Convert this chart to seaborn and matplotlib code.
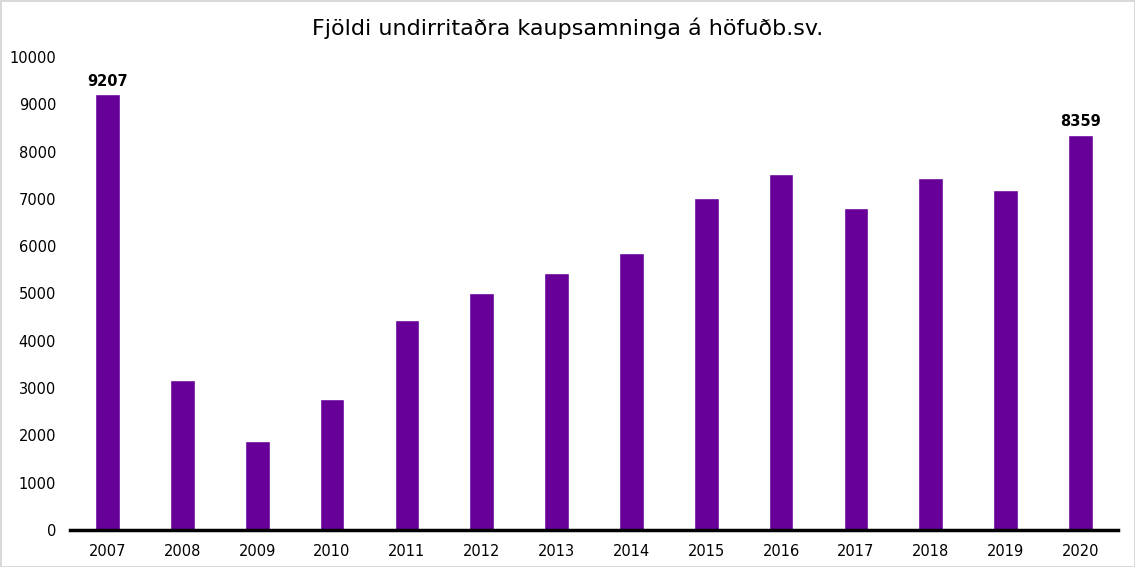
import pandas as pd
import matplotlib
matplotlib.use('Agg')
import matplotlib.pyplot as plt
import seaborn as sns

# Values
years = ['2007', '2008', '2009', '2010', '2011', '2012', '2013',
         '2014', '2015', '2016', '2017', '2018', '2019', '2020']
contracts = [9207, 3170, 1880, 2770, 4440, 5010, 5430,
             5860, 7020, 7520, 6810, 7450, 7190, 8359]
labelled = {'2007': 9207, '2020': 8359}

data = pd.DataFrame({'Year': years, 'Count': contracts})

sns.set_style('white')
plt.rcParams['font.family'] = ['DejaVu Sans']
plt.rcParams['text.color'] = 'black'

fig = plt.figure(figsize=(11.35, 5.67), dpi=100,
                 edgecolor='#d9d9d9', linewidth=2)
ax = fig.add_axes([0.0617, 0.0653, 0.9233, 0.8342])

sns.barplot(x='Year', y='Count', data=data, color='#660099',
            saturation=1, width=0.33, ax=ax)

ax.set_xlim(-0.5, len(years) - 0.5)
ax.set_ylim(0, 10000)
ax.set_yticks(range(0, 10001, 1000))
ax.tick_params(axis='both', length=0, labelsize=10.5, labelcolor='black')
ax.tick_params(axis='x', pad=10)
ax.tick_params(axis='y', pad=10)
ax.set_xlabel('')
ax.set_ylabel('')

for side in ['left', 'right', 'top']:
    ax.spines[side].set_visible(False)
ax.spines['bottom'].set_color('black')
ax.spines['bottom'].set_linewidth(2.5)

for i, y in enumerate(years):
    if y in labelled:
        ax.text(i, contracts[i] + 120, f'{labelled[y]}', ha='center',
                va='bottom', fontsize=10.5, fontweight='bold', color='black')

fig.suptitle('Fjöldi undirritaðra kaupsamninga á höfuðb.sv.',
             fontsize=16, y=0.97, color='black')

fig.savefig('out.png', dpi=100, edgecolor=fig.get_edgecolor())
